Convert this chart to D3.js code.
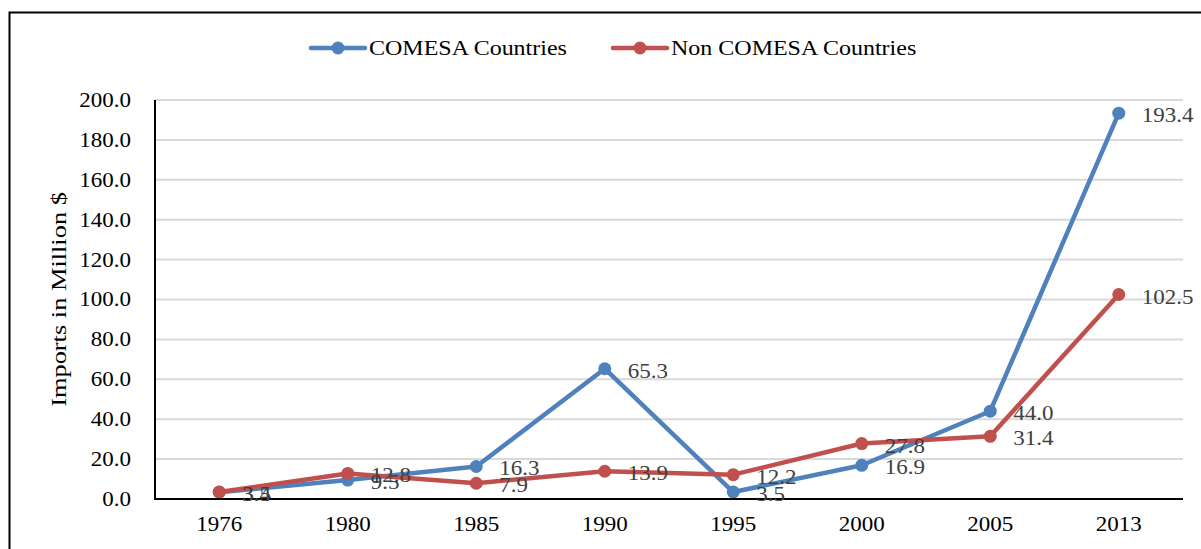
<!DOCTYPE html>
<html>
<head>
<meta charset="utf-8">
<script src="https://cdn.jsdelivr.net/npm/d3@7"></script>
<style>
  body { margin: 0; background: #fff; }
  svg text { font-family: "Liberation Serif", "Times New Roman", serif !important; }
</style>
</head>
<body>
<div id="chart"></div>
<script>
// Data
var years = ["1976", "1980", "1985", "1990", "1995", "2000", "2005", "2013"];
var comesa = [3.4, 9.5, 16.3, 65.3, 3.5, 16.9, 44.0, 193.4];
var nonComesa = [3.5, 12.8, 7.9, 13.9, 12.2, 27.8, 31.4, 102.5];
var seriesNames = ["COMESA Countries", "Non COMESA Countries"];
var yTicks = [0, 20, 40, 60, 80, 100, 120, 140, 160, 180, 200];

var W = 1201, H = 549;
var margin = { top: 100, right: 18, bottom: 50, left: 155 };
var width = W - margin.left - margin.right;
var height = H - margin.top - margin.bottom;
var colors = ["#4F81BD", "#C0504D"];
var serif = '"Liberation Serif", "Times New Roman", serif';
var stretch = "scale(1.15,1)";

var svg = d3.select('#chart')
  .append('svg')
  .attr('width', W)
  .attr('height', H);

// outer frame (runs off the right and bottom edge)
svg.append('rect')
  .attr('x', 9.5).attr('y', 12.5)
  .attr('width', W + 20).attr('height', H + 20)
  .attr('fill', 'none')
  .attr('stroke', '#000')
  .attr('stroke-width', 2);

var chart = svg.append('g')
  .attr('transform', 'translate(' + margin.left + ',' + margin.top + ')');

///////////////////////
// Scales
var x = d3.scaleBand()
  .domain(years)
  .range([0, width]);

var y = d3.scaleLinear()
  .domain([0, 200])
  .range([height, 0]);

///////////////////////
// Grid
chart.append('g')
  .selectAll('line')
  .data(yTicks.slice(1))
  .enter().append('line')
  .attr('x1', 0).attr('x2', width)
  .attr('y1', function(d) { return y(d); })
  .attr('y2', function(d) { return y(d); })
  .attr('stroke', '#d9d9d9')
  .attr('stroke-width', 2);

///////////////////////
// Axes
var yAxis = d3.axisLeft(y)
  .tickValues(yTicks)
  .tickSize(0)
  .tickPadding(24)
  .tickFormat(d3.format('.1f'));

var gy = chart.append('g').call(yAxis).attr('font-family', serif);
gy.select('.domain').remove();
gy.selectAll('text')
  .attr('font-size', '20px')
  .attr('fill', '#000')
  .attr('font-family', serif)
  .attr('transform', stretch)
  .attr('x', -24 / 1.15);

var xAxis = d3.axisBottom(x).tickSize(0).tickPadding(18);
var gx = chart.append('g')
  .attr('transform', 'translate(0,' + height + ')')
  .attr('font-family', serif)
  .call(xAxis);
gx.select('.domain').remove();
gx.selectAll('text')
  .attr('font-size', '20px')
  .attr('fill', '#000')
  .attr('font-family', serif)
  .attr('transform', stretch);

// y axis line
chart.append('line')
  .attr('x1', 0).attr('x2', 0).attr('y1', 0).attr('y2', height + 1)
  .attr('stroke', '#000').attr('stroke-width', 2);

// y title
svg.append('text')
  .attr('transform', 'translate(66,' + (margin.top + height / 2) + ') rotate(-90) scale(1.2,1)')
  .attr('text-anchor', 'middle')
  .attr('font-size', '22px')
  .attr('font-family', serif)
  .attr('fill', '#000')
  .text('Imports in Million $');

///////////////////////
// Lines
var series = [comesa, nonComesa];
var line = d3.line()
  .x(function(d, i) { return x(years[i]) + x.bandwidth() / 2; })
  .y(function(d) { return y(d); });

series.forEach(function(s, k) {
  chart.append('path')
    .datum(s)
    .attr('fill', 'none')
    .attr('stroke', colors[k])
    .attr('stroke-width', 4.5)
    .attr('stroke-linejoin', 'round')
    .attr('d', line);

  chart.append('g')
    .selectAll('circle')
    .data(s)
    .enter().append('circle')
    .attr('cx', function(d, i) { return x(years[i]) + x.bandwidth() / 2; })
    .attr('cy', function(d) { return y(d); })
    .attr('r', 6.5)
    .attr('fill', colors[k]);
});

// x axis line on top
chart.append('line')
  .attr('x1', -1).attr('x2', width).attr('y1', height).attr('y2', height)
  .attr('stroke', '#000').attr('stroke-width', 2);

///////////////////////
// Data labels (Excel-style, right of each point; some overlap as in the original)
series.forEach(function(s, k) {
  chart.append('g')
    .selectAll('text')
    .data(s)
    .enter().append('text')
    .attr('transform', function(d, i) {
      return 'translate(' + (x(years[i]) + x.bandwidth() / 2 + 23) + ',' + (y(d) + 2) + ') ' + stretch;
    })
    .attr('dy', '0.35em')
    .attr('font-size', '20px')
    .attr('font-family', serif)
    .attr('fill', '#404040')
    .text(function(d) { return d3.format('.1f')(d); });
});

///////////////////////
// Legend
var legend = svg.append('g');
var legX = [311, 613];
seriesNames.forEach(function(name, k) {
  var g = legend.append('g').attr('transform', 'translate(' + legX[k] + ',48)');
  g.append('line')
    .attr('x1', 0).attr('x2', 54).attr('y1', 0).attr('y2', 0)
    .attr('stroke', colors[k]).attr('stroke-width', 4.5)
    .attr('stroke-linecap', 'round');
  g.append('circle')
    .attr('cx', 27).attr('cy', 0).attr('r', 6.5)
    .attr('fill', colors[k]);
  g.append('text')
    .attr('transform', 'translate(58,0) scale(1.2,1)')
    .attr('dy', '0.35em')
    .attr('font-size', '20px')
    .attr('font-family', serif)
    .attr('fill', '#000')
    .text(name);
});
</script>
</body>
</html>
